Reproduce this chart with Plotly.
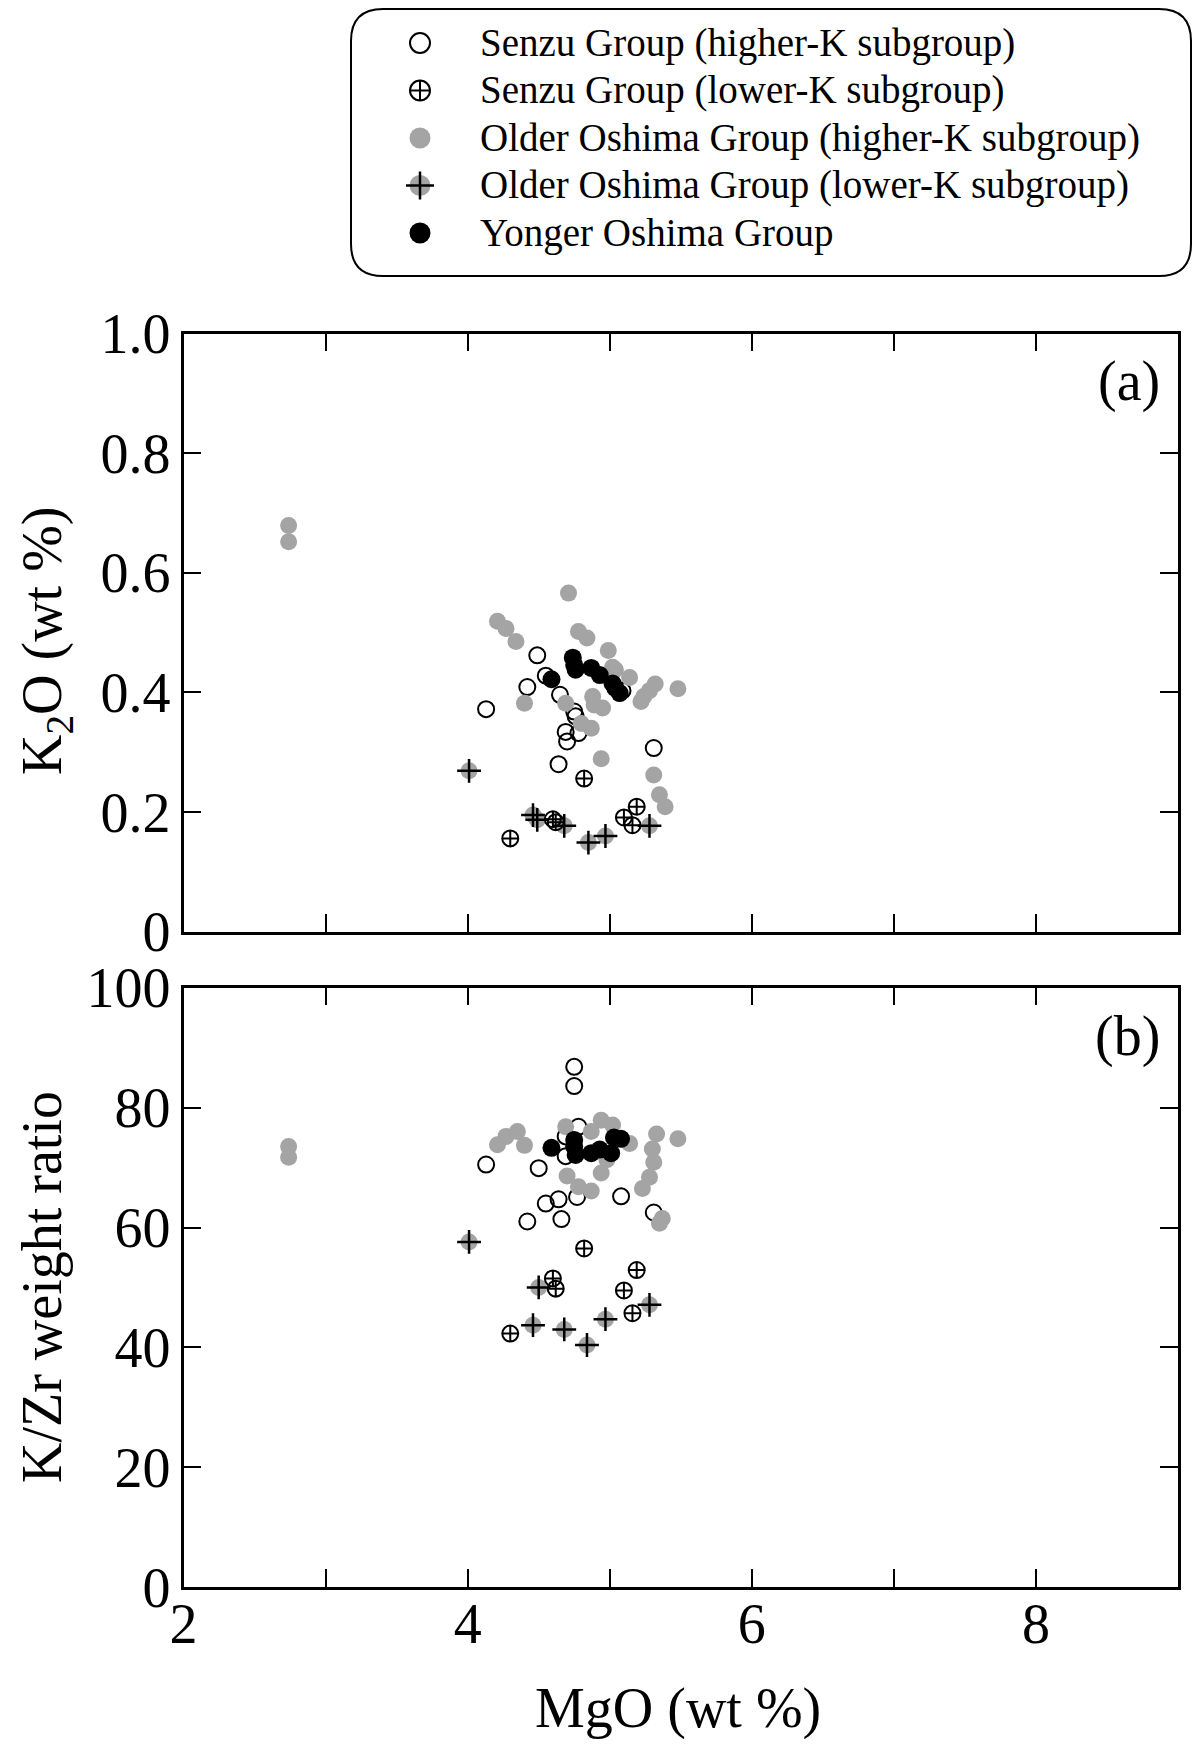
import plotly.graph_objects as go

# the page body adds an 8px margin, so the figure is a bit smaller than the window
PAD = 8
W, H = 1200 - 2 * PAD, 1747 - 2 * PAD

# ---- data ----
# panel (a): K2O (wt %) vs MgO (wt %)
senzu_hk_mgo_a = [4.49, 4.55, 4.42, 4.13, 4.65, 4.75, 4.76, 4.69, 4.78, 4.70, 4.64, 5.31, 5.09]
senzu_hk_k2o = [0.462, 0.428, 0.409, 0.372, 0.396, 0.368, 0.360, 0.334, 0.332, 0.318, 0.280, 0.307, 0.403]
senzu_lk_mgo_a = [4.82, 5.19, 5.10, 5.16, 4.60, 4.62, 4.30]
senzu_lk_k2o = [0.256, 0.209, 0.191, 0.178, 0.188, 0.183, 0.156]
older_hk_mgo_a = [2.74, 2.74, 4.71, 4.21, 4.27, 4.34, 4.78, 4.84, 4.99, 5.02, 5.04, 5.14, 5.32, 5.28,
                  5.24, 5.22, 5.48, 4.40, 4.69, 4.88, 4.89, 4.95, 4.80, 4.87, 4.94, 5.31, 5.35, 5.39]
older_hk_k2o = [0.679, 0.652, 0.566, 0.519, 0.507, 0.485, 0.502, 0.491, 0.470, 0.442, 0.438, 0.425, 0.414, 0.403,
                0.393, 0.385, 0.406, 0.382, 0.382, 0.393, 0.379, 0.374, 0.348, 0.340, 0.289, 0.262, 0.229, 0.209]
older_lk_mgo_a = [4.01, 4.46, 4.49, 4.68, 4.85, 4.97, 5.28]
older_lk_k2o = [0.269, 0.195, 0.187, 0.177, 0.149, 0.160, 0.177]
younger_mgo_a = [4.59, 4.74, 4.75, 4.76, 4.87, 4.93, 5.02, 5.04, 5.07]
younger_k2o = [0.422, 0.458, 0.446, 0.438, 0.441, 0.429, 0.415, 0.407, 0.399]

# panel (b): K/Zr weight ratio vs MgO (wt %)
senzu_hk_mgo_b = [4.75, 4.75, 4.78, 4.69, 4.69, 4.13, 4.50, 4.77, 4.55, 4.64, 5.08, 4.42, 4.66, 5.31]
senzu_hk_kzr = [86.8, 83.6, 76.8, 75.2, 71.9, 70.5, 69.9, 65.1, 64.0, 64.7, 65.2, 61.0, 61.4, 62.5]
senzu_lk_mgo_b = [4.82, 5.19, 5.10, 5.16, 4.60, 4.62, 4.30]
senzu_lk_kzr = [56.5, 52.9, 49.5, 45.7, 51.5, 49.8, 42.3]
older_hk_mgo_b = [2.74, 2.74, 4.21, 4.27, 4.35, 4.40, 4.69, 4.94, 5.02, 4.87, 5.14, 5.33, 5.48, 5.30,
                  5.31, 5.28, 5.23, 4.70, 4.78, 4.87, 4.94, 4.98, 5.37, 5.35]
older_hk_kzr = [73.5, 71.7, 73.8, 75.2, 76.0, 73.7, 76.8, 77.9, 77.1, 76.0, 74.0, 75.6, 74.8, 73.1,
                70.9, 68.4, 66.5, 68.6, 66.8, 66.1, 69.1, 71.3, 61.5, 60.7]
older_lk_mgo_b = [4.01, 4.50, 4.46, 4.68, 4.84, 4.97, 5.28]
older_lk_kzr = [57.6, 50.0, 43.7, 43.0, 40.4, 44.7, 47.1]
younger_mgo_b = [4.59, 4.75, 4.75, 4.76, 4.87, 4.93, 5.01, 5.03, 5.08]
younger_kzr = [73.3, 74.6, 73.5, 72.1, 72.4, 73.0, 72.4, 75.0, 74.8]

# axis ticks
mgo_ticks = [2, 4, 6, 8]
k2o_ticks = [0, 0.2, 0.4, 0.6, 0.8, 1.0]
k2o_ticktext = ["0", "0.2", "0.4", "0.6", "0.8", "1.0"]
kzr_ticks = [0, 20, 40, 60, 80, 100]

legend_labels = [
    "Senzu Group (higher-K subgroup)",
    "Senzu Group (lower-K subgroup)",
    "Older Oshima Group (higher-K subgroup)",
    "Older Oshima Group (lower-K subgroup)",
    "Yonger Oshima Group",
]

GREY = "#a4a4a4"
FONT = "Liberation Serif"


# positions below are measured in window pixels
def px_x(p):
    return (p - PAD) / W


def px_y(p):
    return 1 - (p - PAD) / H


# marker styles per group
open_circ = dict(symbol="circle-open", size=16, color="black", line=dict(width=2, color="black"))
cross_circ = dict(symbol="circle-cross-open", size=16, color="black", line=dict(width=2, color="black"))
grey_dot = dict(symbol="circle", size=17, color=GREY, line=dict(width=0))
plus = dict(symbol="cross-thin-open", size=17, color="black", line=dict(width=2.5, color="black"))
black_dot = dict(symbol="circle", size=18, color="black", line=dict(width=0))

fig = go.Figure()

panels = [
    ("x", "y", senzu_hk_mgo_a, senzu_hk_k2o, senzu_lk_mgo_a, senzu_lk_k2o, older_hk_mgo_a, older_hk_k2o,
     older_lk_mgo_a, older_lk_k2o, younger_mgo_a, younger_k2o),
    ("x2", "y2", senzu_hk_mgo_b, senzu_hk_kzr, senzu_lk_mgo_b, senzu_lk_kzr, older_hk_mgo_b, older_hk_kzr,
     older_lk_mgo_b, older_lk_kzr, younger_mgo_b, younger_kzr),
]

for xa, ya, shx, shy, slx, sly, ohx, ohy, olx, oly, yx, yy in panels:
    fig.add_trace(go.Scatter(x=shx, y=shy, mode="markers", marker=open_circ, xaxis=xa, yaxis=ya))
    fig.add_trace(go.Scatter(x=ohx, y=ohy, mode="markers", marker=grey_dot, xaxis=xa, yaxis=ya))
    fig.add_trace(go.Scatter(x=olx, y=oly, mode="markers", marker=grey_dot, xaxis=xa, yaxis=ya))
    fig.add_trace(go.Scatter(x=olx, y=oly, mode="markers", marker=plus, xaxis=xa, yaxis=ya))
    fig.add_trace(go.Scatter(x=slx, y=sly, mode="markers", marker=cross_circ, xaxis=xa, yaxis=ya))
    fig.add_trace(go.Scatter(x=yx, y=yy, mode="markers", marker=black_dot, xaxis=xa, yaxis=ya))

# legend drawn on its own hidden axes
leg_styles = [
    [dict(open_circ, size=20)],
    [dict(cross_circ, size=20)],
    [dict(grey_dot, size=21)],
    [dict(grey_dot, size=21), dict(plus, size=20)],
    [dict(black_dot, size=21)],
]
for lab, styles in zip(legend_labels, leg_styles):
    for st in styles:
        fig.add_trace(go.Scatter(x=[0], y=[lab], mode="markers", marker=st, xaxis="x3", yaxis="y3"))
    fig.add_annotation(x=1.45, y=lab, xref="x3", yref="y3", text=lab, showarrow=False,
                       xanchor="left", yanchor="middle", font=dict(family=FONT, size=39, color="black"))

# rounded legend frame
x0, x1, y0, y1, r = px_x(351), px_x(1191), px_y(9), px_y(276), 32
rx, ry = r / W, r / H
path = (f"M {x0 + rx},{y0} L {x1 - rx},{y0} Q {x1},{y0} {x1},{y0 - ry} "
        f"L {x1},{y1 + ry} Q {x1},{y1} {x1 - rx},{y1} "
        f"L {x0 + rx},{y1} Q {x0},{y1} {x0},{y1 + ry} "
        f"L {x0},{y0 - ry} Q {x0},{y0} {x0 + rx},{y0} Z")
fig.add_shape(type="path", path=path, xref="paper", yref="paper", line=dict(color="black", width=2))

axis_common = dict(
    showline=True, linecolor="black", linewidth=2.5, mirror="ticks",
    ticks="inside", ticklen=18, tickwidth=2, tickcolor="black",
    showgrid=False, zeroline=False, automargin=False,
    tickfont=dict(family=FONT, size=56, color="black"),
)
x_minor = dict(ticks="inside", dtick=1, tick0=2, ticklen=18, tickwidth=2, tickcolor="black", showgrid=False)

xdom = [px_x(183.5), px_x(1178)]
fig.update_layout(
    width=W, height=H,
    margin=dict(l=0, r=0, t=0, b=0),
    paper_bgcolor="white", plot_bgcolor="white",
    showlegend=False,
    font=dict(family=FONT, color="black"),
    xaxis=dict(axis_common, domain=xdom, range=[2, 9], tickvals=mgo_ticks, minor=x_minor,
               showticklabels=False, anchor="y"),
    yaxis=dict(axis_common, domain=[px_y(931.7), px_y(333.5)], range=[0, 1.0], tickvals=k2o_ticks,
               ticktext=k2o_ticktext, ticklabelstandoff=-1, anchor="x"),
    xaxis2=dict(axis_common, domain=xdom, range=[2, 9], tickvals=mgo_ticks, minor=x_minor,
                ticklabelstandoff=-14, anchor="y2"),
    yaxis2=dict(axis_common, domain=[px_y(1587.2), px_y(987.7)], range=[0, 100], tickvals=kzr_ticks,
                ticklabelstandoff=-1, anchor="x2"),
    xaxis3=dict(domain=[px_x(380), px_x(1190)], range=[-1, 19.25], visible=False, anchor="y3"),
    yaxis3=dict(domain=[px_y(256.75), px_y(19.25)], type="category", categoryarray=legend_labels,
                range=[4.5, -0.5], visible=False, anchor="x3"),
)

# panel labels and axis titles
fig.add_annotation(x=px_x(1162), y=px_y(381), xref="paper", yref="paper", text="(a)", showarrow=False,
                   xanchor="right", yanchor="middle", font=dict(family=FONT, size=56))
fig.add_annotation(x=px_x(1162), y=px_y(1036), xref="paper", yref="paper", text="(b)", showarrow=False,
                   xanchor="right", yanchor="middle", font=dict(family=FONT, size=56))
fig.add_annotation(x=px_x(46), y=px_y(641), xref="paper", yref="paper", text="K<sub>2</sub>O (wt %)",
                   textangle=-90, showarrow=False, xanchor="center", yanchor="middle",
                   font=dict(family=FONT, size=56))
fig.add_annotation(x=px_x(42), y=px_y(1287), xref="paper", yref="paper", text="K/Zr weight ratio",
                   textangle=-90, showarrow=False, xanchor="center", yanchor="middle",
                   font=dict(family=FONT, size=56))
fig.add_annotation(x=px_x(678), y=px_y(1708), xref="paper", yref="paper", text="MgO (wt %)",
                   showarrow=False, xanchor="center", yanchor="middle", font=dict(family=FONT, size=56))

fig.write_html("out.html")
